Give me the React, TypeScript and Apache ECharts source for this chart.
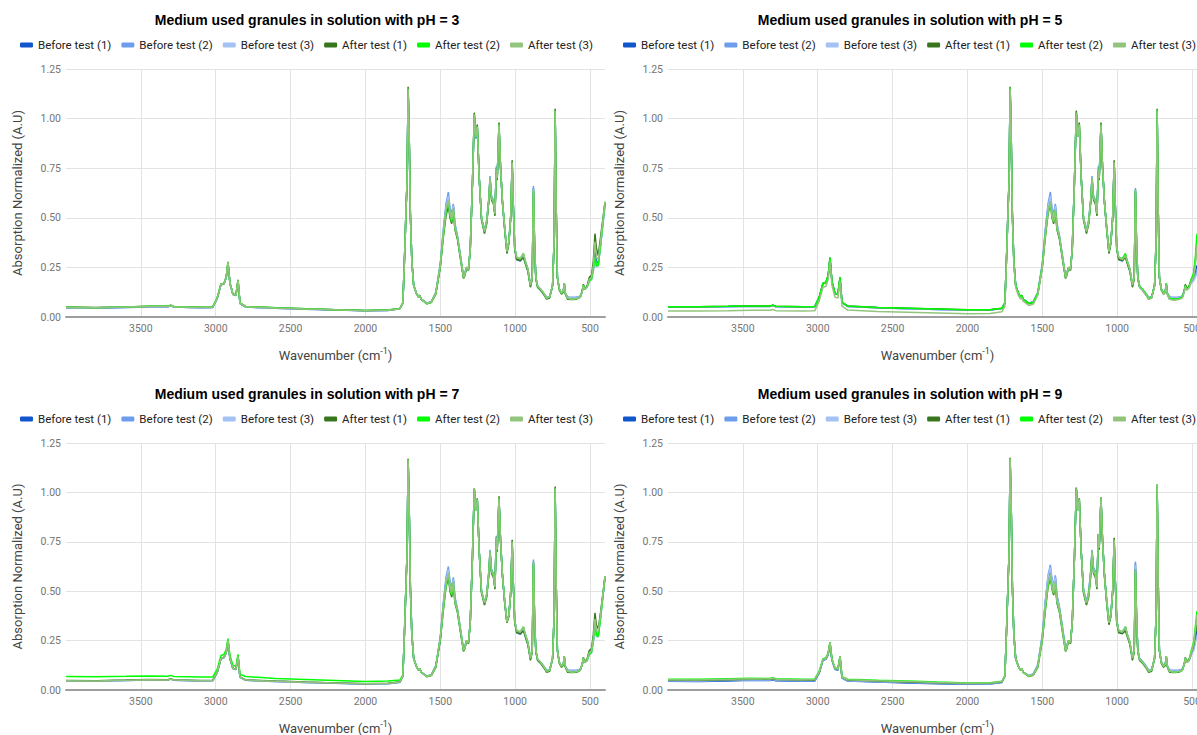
import React, { useEffect, useRef } from "react";
import * as echarts from "echarts";

// ---------- data ----------
const WAVENUMBERS = [
  4000, 3800, 3600, 3450, 3320, 3300, 3280, 3100, 3020, 2990,
  2965, 2945, 2930, 2918, 2905, 2885, 2865, 2851, 2838, 2800,
  2600, 2400, 2200, 2000, 1850, 1770, 1750, 1738, 1728, 1722,
  1715, 1708, 1700, 1690, 1678, 1660, 1645, 1638, 1628, 1590,
  1560, 1530, 1500, 1480, 1462, 1446, 1435, 1424, 1413, 1402,
  1385, 1365, 1345, 1338, 1325, 1312, 1300, 1285, 1273, 1263,
  1253, 1240, 1225, 1205, 1190, 1175, 1168, 1158, 1145, 1135,
  1126, 1120, 1108, 1098, 1085, 1070, 1055, 1042, 1030, 1020,
  1012, 1003, 990, 965, 945, 932, 915, 898, 886, 878,
  870, 862, 850, 830, 810, 790, 770, 750, 740, 733,
  726, 718, 705, 690, 678, 672, 665, 650, 620, 590,
  565, 552, 545, 535, 520, 505, 490, 478, 467, 458,
  445, 430, 415, 400,
];

const SERIES_NAMES = [
  "Before test (1)", "Before test (2)", "Before test (3)",
  "After test (1)", "After test (2)", "After test (3)",
];
const SERIES_COLORS = ["#1155cc", "#6d9eeb", "#a4c2f4", "#38761d", "#00ff00", "#93c47d"];
const PANEL_TITLES = [
  "Medium used granules in solution with pH = 3",
  "Medium used granules in solution with pH = 5",
  "Medium used granules in solution with pH = 7",
  "Medium used granules in solution with pH = 9",
];
const X_TICKS = [3500, 3000, 2500, 2000, 1500, 1000, 500];

// pH = 3
const PH3_BEFORE_1 = [
  0.045, 0.044, 0.048, 0.051, 0.051, 0.056, 0.050, 0.046, 0.048, 0.093,
  0.163, 0.166, 0.198, 0.272, 0.168, 0.113, 0.108, 0.182, 0.068, 0.050,
  0.044, 0.039, 0.035, 0.031, 0.033, 0.041, 0.07, 0.32, 0.56, 0.68,
  1.14, 0.92, 0.52, 0.28, 0.16, 0.12, 0.10, 0.11, 0.09, 0.07,
  0.077, 0.12, 0.26, 0.43, 0.55, 0.60, 0.53, 0.50, 0.56, 0.46,
  0.40, 0.30, 0.20, 0.21, 0.25, 0.24, 0.34, 0.68, 1.01, 0.90,
  0.95, 0.70, 0.50, 0.43, 0.48, 0.60, 0.70, 0.60, 0.58, 0.52,
  0.75, 0.70, 0.96, 0.76, 0.58, 0.45, 0.33, 0.38, 0.50, 0.77,
  0.55, 0.35, 0.29, 0.29, 0.31, 0.28, 0.24, 0.16, 0.20, 0.65,
  0.35, 0.20, 0.155, 0.14, 0.12, 0.10, 0.10, 0.16, 0.38, 1.03,
  0.55, 0.20, 0.14, 0.12, 0.13, 0.17, 0.12, 0.10, 0.095, 0.098,
  0.105, 0.13, 0.16, 0.14, 0.15, 0.19, 0.20, 0.25, 0.35, 0.28,
  0.27, 0.36, 0.47, 0.57,
];
const PH3_BEFORE_2 = [
  0.047, 0.046, 0.050, 0.052, 0.052, 0.057, 0.051, 0.047, 0.049, 0.094,
  0.165, 0.168, 0.20, 0.27, 0.17, 0.115, 0.11, 0.18, 0.07, 0.051,
  0.045, 0.040, 0.036, 0.032, 0.034, 0.042, 0.07, 0.32, 0.56, 0.68,
  1.14, 0.92, 0.52, 0.28, 0.16, 0.12, 0.10, 0.11, 0.09, 0.07,
  0.078, 0.125, 0.27, 0.44, 0.57, 0.63, 0.55, 0.52, 0.57, 0.47,
  0.41, 0.31, 0.21, 0.22, 0.25, 0.24, 0.34, 0.68, 1.01, 0.90,
  0.95, 0.70, 0.50, 0.44, 0.49, 0.61, 0.71, 0.61, 0.59, 0.53,
  0.76, 0.71, 0.96, 0.76, 0.58, 0.45, 0.33, 0.38, 0.50, 0.77,
  0.55, 0.35, 0.29, 0.28, 0.31, 0.27, 0.23, 0.16, 0.20, 0.66,
  0.35, 0.20, 0.15, 0.135, 0.115, 0.095, 0.10, 0.16, 0.38, 1.03,
  0.55, 0.20, 0.14, 0.12, 0.13, 0.17, 0.12, 0.10, 0.10, 0.10,
  0.105, 0.13, 0.155, 0.14, 0.15, 0.18, 0.19, 0.24, 0.30, 0.27,
  0.27, 0.36, 0.46, 0.56,
];
const PH3_BEFORE_3 = [
  0.046, 0.045, 0.049, 0.052, 0.052, 0.056, 0.051, 0.047, 0.049, 0.094,
  0.164, 0.167, 0.20, 0.272, 0.17, 0.114, 0.109, 0.183, 0.069, 0.051,
  0.044, 0.040, 0.036, 0.032, 0.034, 0.042, 0.07, 0.32, 0.56, 0.68,
  1.15, 0.92, 0.52, 0.28, 0.16, 0.12, 0.10, 0.11, 0.09, 0.07,
  0.076, 0.12, 0.26, 0.43, 0.55, 0.61, 0.53, 0.50, 0.56, 0.46,
  0.40, 0.30, 0.20, 0.21, 0.25, 0.24, 0.34, 0.68, 1.02, 0.91,
  0.96, 0.70, 0.50, 0.43, 0.48, 0.60, 0.70, 0.60, 0.58, 0.52,
  0.74, 0.70, 0.97, 0.76, 0.58, 0.45, 0.33, 0.38, 0.50, 0.78,
  0.55, 0.35, 0.30, 0.29, 0.31, 0.28, 0.24, 0.16, 0.20, 0.64,
  0.35, 0.20, 0.155, 0.14, 0.12, 0.10, 0.10, 0.16, 0.38, 1.04,
  0.55, 0.20, 0.14, 0.12, 0.13, 0.17, 0.12, 0.10, 0.095, 0.097,
  0.103, 0.13, 0.155, 0.14, 0.15, 0.18, 0.19, 0.23, 0.27, 0.25,
  0.26, 0.35, 0.46, 0.56,
];
const PH3_AFTER_1 = [
  0.050, 0.048, 0.051, 0.054, 0.054, 0.059, 0.053, 0.049, 0.051, 0.096,
  0.166, 0.169, 0.20, 0.278, 0.172, 0.116, 0.111, 0.187, 0.071, 0.053,
  0.046, 0.041, 0.037, 0.033, 0.035, 0.043, 0.07, 0.32, 0.56, 0.68,
  1.16, 0.93, 0.52, 0.28, 0.16, 0.12, 0.10, 0.11, 0.09, 0.066,
  0.073, 0.115, 0.25, 0.40, 0.51, 0.56, 0.50, 0.47, 0.53, 0.44,
  0.39, 0.29, 0.195, 0.205, 0.245, 0.235, 0.34, 0.68, 1.03, 0.92,
  0.97, 0.70, 0.49, 0.42, 0.47, 0.59, 0.69, 0.59, 0.57, 0.51,
  0.73, 0.69, 0.98, 0.76, 0.58, 0.44, 0.32, 0.37, 0.50, 0.79,
  0.55, 0.34, 0.29, 0.285, 0.30, 0.27, 0.23, 0.15, 0.19, 0.63,
  0.34, 0.19, 0.15, 0.135, 0.115, 0.09, 0.095, 0.16, 0.38, 1.05,
  0.55, 0.20, 0.135, 0.115, 0.125, 0.165, 0.115, 0.09, 0.088, 0.09,
  0.10, 0.13, 0.165, 0.145, 0.155, 0.20, 0.21, 0.28, 0.42, 0.35,
  0.31, 0.40, 0.49, 0.58,
];
const PH3_AFTER_2 = [
  0.049, 0.047, 0.051, 0.054, 0.054, 0.059, 0.053, 0.049, 0.051, 0.096,
  0.166, 0.169, 0.20, 0.276, 0.171, 0.116, 0.111, 0.186, 0.071, 0.053,
  0.046, 0.041, 0.037, 0.033, 0.035, 0.043, 0.07, 0.32, 0.56, 0.68,
  1.15, 0.92, 0.52, 0.28, 0.16, 0.12, 0.10, 0.11, 0.09, 0.067,
  0.074, 0.12, 0.26, 0.41, 0.53, 0.58, 0.51, 0.48, 0.54, 0.45,
  0.40, 0.30, 0.20, 0.21, 0.25, 0.24, 0.34, 0.68, 1.02, 0.91,
  0.96, 0.70, 0.50, 0.43, 0.48, 0.60, 0.70, 0.60, 0.58, 0.52,
  0.74, 0.70, 0.97, 0.76, 0.58, 0.45, 0.33, 0.38, 0.50, 0.78,
  0.55, 0.35, 0.30, 0.295, 0.32, 0.28, 0.24, 0.16, 0.20, 0.64,
  0.35, 0.20, 0.155, 0.14, 0.12, 0.095, 0.10, 0.16, 0.38, 1.04,
  0.55, 0.20, 0.14, 0.12, 0.13, 0.17, 0.12, 0.095, 0.09, 0.092,
  0.10, 0.13, 0.16, 0.14, 0.15, 0.18, 0.19, 0.24, 0.30, 0.26,
  0.26, 0.36, 0.47, 0.58,
];
const PH3_AFTER_3 = [
  0.048, 0.046, 0.050, 0.053, 0.053, 0.058, 0.052, 0.048, 0.050, 0.095,
  0.165, 0.168, 0.20, 0.275, 0.17, 0.115, 0.11, 0.185, 0.07, 0.052,
  0.045, 0.040, 0.036, 0.032, 0.034, 0.042, 0.07, 0.32, 0.56, 0.68,
  1.15, 0.92, 0.52, 0.28, 0.16, 0.12, 0.10, 0.11, 0.09, 0.068,
  0.075, 0.12, 0.26, 0.42, 0.54, 0.59, 0.52, 0.49, 0.55, 0.45,
  0.40, 0.30, 0.20, 0.21, 0.25, 0.24, 0.34, 0.68, 1.02, 0.91,
  0.96, 0.70, 0.50, 0.43, 0.48, 0.60, 0.70, 0.60, 0.58, 0.52,
  0.74, 0.70, 0.97, 0.76, 0.58, 0.45, 0.33, 0.38, 0.50, 0.78,
  0.55, 0.35, 0.30, 0.295, 0.32, 0.28, 0.24, 0.16, 0.20, 0.645,
  0.35, 0.20, 0.155, 0.14, 0.12, 0.095, 0.10, 0.16, 0.38, 1.04,
  0.55, 0.20, 0.14, 0.12, 0.13, 0.17, 0.12, 0.095, 0.09, 0.093,
  0.10, 0.13, 0.16, 0.14, 0.15, 0.19, 0.20, 0.26, 0.38, 0.30,
  0.29, 0.38, 0.48, 0.58,
];

// pH = 5
const PH5_BEFORE_1 = [
  0.050, 0.050, 0.052, 0.054, 0.053, 0.058, 0.052, 0.050, 0.051, 0.098,
  0.168, 0.173, 0.208, 0.296, 0.178, 0.118, 0.113, 0.197, 0.073, 0.053,
  0.046, 0.042, 0.038, 0.034, 0.035, 0.043, 0.07, 0.32, 0.56, 0.68,
  1.15, 0.92, 0.52, 0.28, 0.16, 0.12, 0.10, 0.11, 0.09, 0.07,
  0.077, 0.12, 0.26, 0.43, 0.55, 0.60, 0.53, 0.50, 0.56, 0.46,
  0.40, 0.30, 0.20, 0.21, 0.25, 0.24, 0.34, 0.69, 1.03, 0.91,
  0.96, 0.70, 0.50, 0.43, 0.48, 0.60, 0.70, 0.60, 0.58, 0.52,
  0.74, 0.70, 0.97, 0.76, 0.58, 0.45, 0.33, 0.38, 0.50, 0.78,
  0.55, 0.35, 0.30, 0.29, 0.31, 0.28, 0.24, 0.16, 0.20, 0.64,
  0.35, 0.20, 0.155, 0.14, 0.12, 0.10, 0.10, 0.16, 0.38, 1.04,
  0.55, 0.20, 0.14, 0.12, 0.13, 0.17, 0.12, 0.10, 0.095, 0.098,
  0.105, 0.13, 0.16, 0.14, 0.15, 0.18, 0.19, 0.22, 0.26, 0.24,
  0.25, 0.33, 0.42, 0.50,
];
const PH5_BEFORE_2 = [
  0.051, 0.051, 0.053, 0.055, 0.054, 0.059, 0.053, 0.051, 0.052, 0.099,
  0.169, 0.174, 0.209, 0.298, 0.179, 0.119, 0.114, 0.198, 0.074, 0.054,
  0.047, 0.043, 0.039, 0.035, 0.035, 0.043, 0.07, 0.32, 0.56, 0.68,
  1.15, 0.92, 0.52, 0.28, 0.16, 0.12, 0.10, 0.11, 0.09, 0.07,
  0.078, 0.125, 0.27, 0.44, 0.57, 0.63, 0.55, 0.52, 0.57, 0.47,
  0.41, 0.31, 0.21, 0.22, 0.25, 0.24, 0.34, 0.69, 1.02, 0.91,
  0.96, 0.70, 0.50, 0.44, 0.49, 0.61, 0.71, 0.61, 0.59, 0.53,
  0.76, 0.71, 0.96, 0.76, 0.58, 0.45, 0.33, 0.38, 0.50, 0.77,
  0.55, 0.35, 0.29, 0.28, 0.31, 0.27, 0.23, 0.16, 0.20, 0.65,
  0.35, 0.20, 0.15, 0.135, 0.115, 0.095, 0.10, 0.16, 0.38, 1.04,
  0.55, 0.20, 0.14, 0.12, 0.13, 0.17, 0.12, 0.10, 0.10, 0.10,
  0.105, 0.13, 0.155, 0.14, 0.15, 0.18, 0.19, 0.21, 0.24, 0.23,
  0.24, 0.32, 0.41, 0.49,
];
const PH5_BEFORE_3 = [
  0.050, 0.050, 0.052, 0.054, 0.054, 0.058, 0.052, 0.050, 0.051, 0.098,
  0.168, 0.172, 0.207, 0.295, 0.177, 0.118, 0.113, 0.196, 0.073, 0.053,
  0.046, 0.042, 0.038, 0.034, 0.035, 0.043, 0.07, 0.32, 0.56, 0.68,
  1.155, 0.92, 0.52, 0.28, 0.16, 0.12, 0.10, 0.11, 0.09, 0.07,
  0.076, 0.12, 0.26, 0.43, 0.55, 0.61, 0.53, 0.50, 0.56, 0.46,
  0.40, 0.30, 0.20, 0.21, 0.25, 0.24, 0.34, 0.69, 1.03, 0.91,
  0.97, 0.70, 0.50, 0.43, 0.48, 0.60, 0.70, 0.60, 0.58, 0.52,
  0.74, 0.70, 0.97, 0.76, 0.58, 0.45, 0.33, 0.38, 0.50, 0.78,
  0.55, 0.35, 0.30, 0.29, 0.31, 0.28, 0.24, 0.16, 0.20, 0.63,
  0.35, 0.20, 0.155, 0.14, 0.12, 0.10, 0.10, 0.16, 0.38, 1.045,
  0.55, 0.20, 0.14, 0.12, 0.13, 0.17, 0.12, 0.10, 0.095, 0.097,
  0.103, 0.13, 0.155, 0.14, 0.15, 0.17, 0.18, 0.20, 0.22, 0.21,
  0.23, 0.31, 0.40, 0.48,
];
const PH5_AFTER_1 = [
  0.052, 0.052, 0.054, 0.056, 0.055, 0.060, 0.054, 0.052, 0.053, 0.10,
  0.17, 0.175, 0.21, 0.30, 0.18, 0.12, 0.115, 0.20, 0.075, 0.055,
  0.048, 0.044, 0.040, 0.036, 0.036, 0.044, 0.07, 0.32, 0.56, 0.68,
  1.16, 0.93, 0.52, 0.28, 0.16, 0.12, 0.10, 0.11, 0.09, 0.067,
  0.073, 0.115, 0.25, 0.40, 0.52, 0.57, 0.50, 0.47, 0.53, 0.44,
  0.39, 0.29, 0.195, 0.205, 0.245, 0.235, 0.34, 0.69, 1.04, 0.92,
  0.98, 0.70, 0.49, 0.42, 0.47, 0.59, 0.69, 0.59, 0.57, 0.51,
  0.73, 0.69, 0.98, 0.76, 0.58, 0.44, 0.32, 0.37, 0.50, 0.79,
  0.55, 0.34, 0.29, 0.285, 0.30, 0.27, 0.23, 0.15, 0.19, 0.63,
  0.34, 0.19, 0.15, 0.135, 0.115, 0.09, 0.095, 0.16, 0.38, 1.05,
  0.55, 0.20, 0.135, 0.115, 0.125, 0.165, 0.115, 0.09, 0.088, 0.09,
  0.10, 0.13, 0.165, 0.145, 0.155, 0.19, 0.21, 0.28, 0.38, 0.32,
  0.30, 0.38, 0.46, 0.52,
];
const PH5_AFTER_2 = [
  0.052, 0.052, 0.054, 0.056, 0.055, 0.060, 0.054, 0.052, 0.053, 0.10,
  0.17, 0.175, 0.21, 0.30, 0.18, 0.12, 0.115, 0.20, 0.075, 0.055,
  0.048, 0.044, 0.040, 0.036, 0.036, 0.044, 0.07, 0.32, 0.56, 0.68,
  1.155, 0.92, 0.52, 0.28, 0.16, 0.12, 0.10, 0.11, 0.09, 0.068,
  0.075, 0.12, 0.26, 0.41, 0.53, 0.58, 0.51, 0.48, 0.54, 0.45,
  0.40, 0.30, 0.20, 0.21, 0.25, 0.24, 0.34, 0.69, 1.03, 0.91,
  0.97, 0.70, 0.50, 0.43, 0.48, 0.60, 0.70, 0.60, 0.58, 0.52,
  0.74, 0.70, 0.97, 0.76, 0.58, 0.45, 0.33, 0.38, 0.50, 0.78,
  0.55, 0.35, 0.30, 0.295, 0.32, 0.28, 0.24, 0.16, 0.20, 0.64,
  0.35, 0.20, 0.155, 0.14, 0.12, 0.095, 0.10, 0.16, 0.38, 1.045,
  0.55, 0.20, 0.14, 0.12, 0.13, 0.17, 0.12, 0.095, 0.09, 0.092,
  0.10, 0.13, 0.16, 0.14, 0.15, 0.19, 0.22, 0.30, 0.42, 0.36,
  0.34, 0.41, 0.48, 0.54,
];
const PH5_AFTER_3 = [
  0.030, 0.030, 0.032, 0.034, 0.034, 0.038, 0.032, 0.030, 0.031, 0.08,
  0.15, 0.155, 0.19, 0.28, 0.16, 0.10, 0.095, 0.18, 0.055, 0.035,
  0.028, 0.024, 0.020, 0.016, 0.018, 0.026, 0.055, 0.31, 0.55, 0.67,
  1.15, 0.92, 0.51, 0.27, 0.15, 0.11, 0.09, 0.10, 0.08, 0.058,
  0.065, 0.11, 0.25, 0.41, 0.53, 0.58, 0.51, 0.48, 0.54, 0.45,
  0.40, 0.30, 0.20, 0.21, 0.25, 0.24, 0.34, 0.69, 1.03, 0.91,
  0.97, 0.70, 0.50, 0.43, 0.48, 0.60, 0.70, 0.60, 0.58, 0.52,
  0.74, 0.70, 0.97, 0.76, 0.58, 0.45, 0.33, 0.38, 0.50, 0.78,
  0.55, 0.35, 0.30, 0.29, 0.31, 0.28, 0.24, 0.16, 0.20, 0.64,
  0.35, 0.20, 0.15, 0.135, 0.115, 0.09, 0.095, 0.155, 0.38, 1.04,
  0.55, 0.20, 0.135, 0.115, 0.125, 0.165, 0.115, 0.09, 0.085, 0.088,
  0.095, 0.125, 0.155, 0.135, 0.145, 0.18, 0.20, 0.26, 0.36, 0.30,
  0.29, 0.37, 0.45, 0.51,
];

// pH = 7
const PH7_BEFORE_1 = [
  0.046, 0.045, 0.048, 0.051, 0.050, 0.055, 0.049, 0.046, 0.047, 0.088,
  0.158, 0.163, 0.188, 0.247, 0.158, 0.108, 0.103, 0.168, 0.064, 0.049,
  0.043, 0.038, 0.034, 0.030, 0.032, 0.039, 0.07, 0.32, 0.56, 0.69,
  1.16, 0.93, 0.52, 0.28, 0.16, 0.12, 0.10, 0.11, 0.09, 0.07,
  0.077, 0.12, 0.26, 0.43, 0.55, 0.60, 0.53, 0.50, 0.56, 0.46,
  0.40, 0.30, 0.20, 0.21, 0.25, 0.24, 0.34, 0.68, 1.01, 0.91,
  0.96, 0.70, 0.50, 0.44, 0.48, 0.60, 0.70, 0.60, 0.58, 0.52,
  0.77, 0.71, 0.96, 0.76, 0.58, 0.45, 0.345, 0.38, 0.49, 0.74,
  0.53, 0.35, 0.30, 0.29, 0.31, 0.28, 0.24, 0.16, 0.20, 0.65,
  0.35, 0.20, 0.155, 0.14, 0.12, 0.10, 0.10, 0.16, 0.37, 1.01,
  0.54, 0.20, 0.14, 0.12, 0.13, 0.17, 0.12, 0.10, 0.095, 0.098,
  0.105, 0.13, 0.16, 0.14, 0.15, 0.19, 0.20, 0.25, 0.33, 0.28,
  0.28, 0.37, 0.47, 0.57,
];
const PH7_BEFORE_2 = [
  0.047, 0.046, 0.049, 0.052, 0.051, 0.056, 0.050, 0.047, 0.048, 0.089,
  0.159, 0.164, 0.189, 0.248, 0.159, 0.109, 0.104, 0.169, 0.065, 0.050,
  0.044, 0.039, 0.035, 0.031, 0.033, 0.040, 0.07, 0.32, 0.56, 0.69,
  1.16, 0.93, 0.52, 0.28, 0.16, 0.12, 0.10, 0.11, 0.09, 0.07,
  0.078, 0.125, 0.27, 0.44, 0.57, 0.625, 0.55, 0.52, 0.57, 0.47,
  0.41, 0.31, 0.21, 0.22, 0.25, 0.24, 0.34, 0.68, 1.02, 0.91,
  0.96, 0.70, 0.50, 0.44, 0.49, 0.61, 0.71, 0.61, 0.59, 0.53,
  0.78, 0.72, 0.97, 0.76, 0.58, 0.45, 0.35, 0.38, 0.49, 0.74,
  0.53, 0.35, 0.29, 0.28, 0.31, 0.27, 0.23, 0.16, 0.20, 0.66,
  0.35, 0.20, 0.15, 0.135, 0.115, 0.095, 0.10, 0.16, 0.37, 1.01,
  0.54, 0.20, 0.14, 0.12, 0.13, 0.17, 0.12, 0.10, 0.10, 0.10,
  0.105, 0.13, 0.155, 0.14, 0.15, 0.18, 0.19, 0.25, 0.35, 0.29,
  0.28, 0.37, 0.47, 0.57,
];
const PH7_BEFORE_3 = [
  0.046, 0.045, 0.048, 0.051, 0.050, 0.055, 0.049, 0.046, 0.047, 0.088,
  0.158, 0.163, 0.188, 0.248, 0.158, 0.108, 0.103, 0.168, 0.064, 0.049,
  0.043, 0.038, 0.034, 0.030, 0.032, 0.039, 0.07, 0.32, 0.56, 0.69,
  1.165, 0.93, 0.52, 0.28, 0.16, 0.12, 0.10, 0.11, 0.09, 0.07,
  0.076, 0.12, 0.26, 0.43, 0.55, 0.61, 0.53, 0.50, 0.56, 0.46,
  0.40, 0.30, 0.20, 0.21, 0.25, 0.24, 0.34, 0.68, 1.02, 0.91,
  0.965, 0.70, 0.50, 0.44, 0.48, 0.60, 0.70, 0.60, 0.58, 0.52,
  0.77, 0.71, 0.97, 0.76, 0.58, 0.45, 0.345, 0.38, 0.49, 0.75,
  0.53, 0.35, 0.30, 0.29, 0.31, 0.28, 0.24, 0.16, 0.20, 0.64,
  0.35, 0.20, 0.155, 0.14, 0.12, 0.10, 0.10, 0.16, 0.37, 1.02,
  0.54, 0.20, 0.14, 0.12, 0.13, 0.17, 0.12, 0.10, 0.095, 0.097,
  0.103, 0.13, 0.155, 0.14, 0.15, 0.18, 0.19, 0.24, 0.30, 0.27,
  0.27, 0.36, 0.46, 0.56,
];
const PH7_AFTER_1 = [
  0.048, 0.047, 0.050, 0.053, 0.052, 0.057, 0.051, 0.048, 0.049, 0.09,
  0.16, 0.165, 0.19, 0.252, 0.16, 0.11, 0.105, 0.172, 0.066, 0.051,
  0.045, 0.040, 0.036, 0.032, 0.034, 0.041, 0.07, 0.32, 0.56, 0.69,
  1.17, 0.94, 0.52, 0.28, 0.16, 0.12, 0.10, 0.11, 0.09, 0.067,
  0.073, 0.115, 0.25, 0.40, 0.52, 0.57, 0.50, 0.47, 0.53, 0.44,
  0.39, 0.29, 0.195, 0.205, 0.245, 0.235, 0.34, 0.68, 1.02, 0.92,
  0.97, 0.70, 0.49, 0.43, 0.47, 0.59, 0.69, 0.59, 0.57, 0.51,
  0.76, 0.70, 0.98, 0.76, 0.58, 0.44, 0.34, 0.37, 0.49, 0.76,
  0.53, 0.34, 0.29, 0.285, 0.30, 0.27, 0.23, 0.15, 0.19, 0.64,
  0.34, 0.19, 0.15, 0.135, 0.115, 0.09, 0.095, 0.16, 0.37, 1.03,
  0.54, 0.20, 0.135, 0.115, 0.125, 0.165, 0.115, 0.09, 0.088, 0.09,
  0.10, 0.13, 0.165, 0.145, 0.155, 0.20, 0.21, 0.28, 0.39, 0.33,
  0.31, 0.39, 0.48, 0.575,
];
const PH7_AFTER_2 = [
  0.068, 0.067, 0.069, 0.071, 0.070, 0.074, 0.068, 0.066, 0.066, 0.105,
  0.175, 0.18, 0.205, 0.26, 0.175, 0.125, 0.12, 0.18, 0.08, 0.068,
  0.058, 0.053, 0.048, 0.043, 0.045, 0.050, 0.075, 0.32, 0.56, 0.69,
  1.165, 0.93, 0.52, 0.28, 0.16, 0.12, 0.10, 0.11, 0.09, 0.068,
  0.075, 0.12, 0.26, 0.41, 0.53, 0.58, 0.51, 0.48, 0.54, 0.45,
  0.40, 0.30, 0.20, 0.21, 0.25, 0.24, 0.34, 0.68, 1.02, 0.91,
  0.965, 0.70, 0.50, 0.44, 0.48, 0.60, 0.70, 0.60, 0.58, 0.52,
  0.77, 0.71, 0.97, 0.76, 0.58, 0.45, 0.345, 0.38, 0.49, 0.75,
  0.53, 0.35, 0.30, 0.295, 0.32, 0.28, 0.24, 0.16, 0.20, 0.64,
  0.35, 0.20, 0.155, 0.14, 0.12, 0.095, 0.10, 0.16, 0.37, 1.02,
  0.54, 0.20, 0.14, 0.12, 0.13, 0.17, 0.12, 0.095, 0.09, 0.092,
  0.10, 0.13, 0.16, 0.14, 0.15, 0.18, 0.19, 0.25, 0.34, 0.28,
  0.27, 0.36, 0.47, 0.575,
];
const PH7_AFTER_3 = [
  0.047, 0.046, 0.049, 0.052, 0.051, 0.056, 0.050, 0.047, 0.048, 0.09,
  0.16, 0.165, 0.19, 0.25, 0.16, 0.11, 0.105, 0.17, 0.065, 0.05,
  0.044, 0.039, 0.035, 0.031, 0.033, 0.040, 0.07, 0.32, 0.56, 0.69,
  1.165, 0.93, 0.52, 0.28, 0.16, 0.12, 0.10, 0.11, 0.09, 0.068,
  0.075, 0.12, 0.26, 0.42, 0.54, 0.59, 0.52, 0.49, 0.55, 0.45,
  0.40, 0.30, 0.20, 0.21, 0.25, 0.24, 0.34, 0.68, 1.02, 0.91,
  0.965, 0.70, 0.50, 0.44, 0.48, 0.60, 0.70, 0.60, 0.58, 0.52,
  0.77, 0.71, 0.97, 0.76, 0.58, 0.45, 0.345, 0.38, 0.49, 0.75,
  0.53, 0.35, 0.30, 0.295, 0.32, 0.28, 0.24, 0.16, 0.20, 0.65,
  0.35, 0.20, 0.155, 0.14, 0.12, 0.095, 0.10, 0.16, 0.37, 1.02,
  0.54, 0.20, 0.14, 0.12, 0.13, 0.17, 0.12, 0.095, 0.09, 0.093,
  0.10, 0.13, 0.16, 0.14, 0.15, 0.19, 0.20, 0.26, 0.36, 0.30,
  0.30, 0.38, 0.48, 0.575,
];

// pH = 9
const PH9_BEFORE_1 = [
  0.044, 0.043, 0.046, 0.049, 0.048, 0.052, 0.047, 0.044, 0.045, 0.085,
  0.15, 0.155, 0.18, 0.235, 0.15, 0.105, 0.10, 0.165, 0.06, 0.045,
  0.040, 0.036, 0.032, 0.029, 0.030, 0.038, 0.07, 0.32, 0.56, 0.69,
  1.165, 0.94, 0.53, 0.28, 0.16, 0.12, 0.10, 0.11, 0.09, 0.072,
  0.08, 0.125, 0.27, 0.44, 0.56, 0.61, 0.55, 0.52, 0.57, 0.47,
  0.41, 0.31, 0.21, 0.22, 0.25, 0.24, 0.34, 0.68, 1.01, 0.91,
  0.96, 0.70, 0.50, 0.44, 0.49, 0.61, 0.70, 0.61, 0.59, 0.53,
  0.79, 0.72, 0.96, 0.76, 0.58, 0.45, 0.34, 0.38, 0.50, 0.75,
  0.54, 0.35, 0.30, 0.29, 0.31, 0.28, 0.24, 0.16, 0.20, 0.64,
  0.35, 0.20, 0.155, 0.14, 0.12, 0.10, 0.10, 0.16, 0.38, 1.03,
  0.55, 0.20, 0.14, 0.12, 0.13, 0.17, 0.12, 0.10, 0.095, 0.098,
  0.105, 0.13, 0.16, 0.14, 0.15, 0.18, 0.21, 0.26, 0.30, 0.27,
  0.27, 0.34, 0.42, 0.48,
];
const PH9_BEFORE_2 = [
  0.046, 0.045, 0.048, 0.051, 0.050, 0.054, 0.049, 0.046, 0.047, 0.087,
  0.152, 0.157, 0.182, 0.238, 0.152, 0.107, 0.102, 0.167, 0.062, 0.047,
  0.042, 0.038, 0.034, 0.031, 0.032, 0.040, 0.07, 0.32, 0.56, 0.69,
  1.165, 0.94, 0.53, 0.28, 0.16, 0.12, 0.10, 0.11, 0.09, 0.074,
  0.082, 0.13, 0.28, 0.45, 0.58, 0.633, 0.56, 0.53, 0.58, 0.48,
  0.42, 0.32, 0.21, 0.22, 0.25, 0.24, 0.34, 0.68, 1.02, 0.91,
  0.96, 0.70, 0.51, 0.45, 0.50, 0.62, 0.71, 0.62, 0.60, 0.54,
  0.79, 0.73, 0.97, 0.77, 0.59, 0.46, 0.35, 0.39, 0.50, 0.75,
  0.54, 0.36, 0.30, 0.29, 0.32, 0.28, 0.24, 0.165, 0.205, 0.65,
  0.36, 0.205, 0.16, 0.145, 0.125, 0.10, 0.105, 0.165, 0.38, 1.03,
  0.55, 0.20, 0.145, 0.125, 0.135, 0.17, 0.125, 0.10, 0.10, 0.10,
  0.105, 0.13, 0.155, 0.14, 0.15, 0.18, 0.20, 0.25, 0.28, 0.26,
  0.26, 0.33, 0.41, 0.47,
];
const PH9_BEFORE_3 = [
  0.048, 0.047, 0.050, 0.053, 0.052, 0.056, 0.051, 0.048, 0.049, 0.088,
  0.153, 0.158, 0.183, 0.238, 0.153, 0.108, 0.103, 0.168, 0.063, 0.048,
  0.043, 0.039, 0.035, 0.032, 0.033, 0.041, 0.07, 0.32, 0.56, 0.69,
  1.17, 0.94, 0.53, 0.28, 0.16, 0.12, 0.10, 0.11, 0.09, 0.073,
  0.08, 0.125, 0.27, 0.44, 0.57, 0.62, 0.55, 0.52, 0.57, 0.47,
  0.41, 0.31, 0.21, 0.22, 0.25, 0.24, 0.34, 0.68, 1.02, 0.91,
  0.965, 0.70, 0.50, 0.44, 0.49, 0.61, 0.70, 0.61, 0.59, 0.53,
  0.79, 0.72, 0.97, 0.76, 0.58, 0.45, 0.34, 0.38, 0.50, 0.76,
  0.54, 0.35, 0.30, 0.29, 0.31, 0.28, 0.24, 0.16, 0.20, 0.63,
  0.35, 0.20, 0.155, 0.14, 0.12, 0.10, 0.10, 0.16, 0.38, 1.035,
  0.55, 0.20, 0.14, 0.12, 0.13, 0.17, 0.12, 0.10, 0.095, 0.097,
  0.103, 0.13, 0.155, 0.14, 0.15, 0.18, 0.20, 0.24, 0.27, 0.25,
  0.25, 0.32, 0.40, 0.46,
];
const PH9_AFTER_1 = [
  0.050, 0.049, 0.052, 0.055, 0.054, 0.058, 0.053, 0.050, 0.051, 0.09,
  0.155, 0.16, 0.185, 0.24, 0.155, 0.11, 0.105, 0.17, 0.065, 0.05,
  0.045, 0.041, 0.037, 0.033, 0.034, 0.042, 0.07, 0.32, 0.56, 0.69,
  1.175, 0.95, 0.53, 0.28, 0.16, 0.12, 0.10, 0.11, 0.09, 0.068,
  0.075, 0.115, 0.25, 0.40, 0.52, 0.57, 0.51, 0.48, 0.53, 0.44,
  0.39, 0.29, 0.195, 0.205, 0.245, 0.235, 0.34, 0.68, 1.025, 0.92,
  0.97, 0.70, 0.49, 0.43, 0.47, 0.59, 0.69, 0.59, 0.57, 0.51,
  0.78, 0.71, 0.975, 0.76, 0.58, 0.44, 0.33, 0.37, 0.50, 0.77,
  0.54, 0.34, 0.29, 0.285, 0.30, 0.27, 0.23, 0.15, 0.19, 0.61,
  0.34, 0.19, 0.15, 0.135, 0.115, 0.09, 0.095, 0.16, 0.38, 1.04,
  0.55, 0.20, 0.135, 0.115, 0.125, 0.165, 0.115, 0.09, 0.088, 0.09,
  0.10, 0.13, 0.165, 0.145, 0.155, 0.19, 0.22, 0.28, 0.33, 0.30,
  0.29, 0.36, 0.44, 0.49,
];
const PH9_AFTER_2 = [
  0.055, 0.054, 0.057, 0.059, 0.058, 0.062, 0.057, 0.055, 0.056, 0.095,
  0.158, 0.163, 0.188, 0.242, 0.158, 0.113, 0.108, 0.172, 0.068, 0.055,
  0.049, 0.045, 0.040, 0.036, 0.037, 0.044, 0.07, 0.32, 0.56, 0.69,
  1.17, 0.94, 0.53, 0.28, 0.16, 0.12, 0.10, 0.11, 0.09, 0.07,
  0.077, 0.12, 0.26, 0.41, 0.53, 0.575, 0.52, 0.49, 0.54, 0.45,
  0.40, 0.30, 0.20, 0.21, 0.25, 0.24, 0.34, 0.68, 1.02, 0.91,
  0.965, 0.70, 0.50, 0.44, 0.48, 0.60, 0.70, 0.60, 0.58, 0.52,
  0.79, 0.72, 0.97, 0.76, 0.58, 0.45, 0.34, 0.38, 0.50, 0.76,
  0.54, 0.35, 0.30, 0.295, 0.32, 0.28, 0.24, 0.16, 0.20, 0.60,
  0.35, 0.20, 0.155, 0.14, 0.12, 0.095, 0.10, 0.16, 0.38, 1.04,
  0.55, 0.20, 0.14, 0.12, 0.13, 0.17, 0.12, 0.095, 0.09, 0.092,
  0.10, 0.13, 0.16, 0.14, 0.15, 0.20, 0.24, 0.32, 0.40, 0.34,
  0.32, 0.38, 0.45, 0.50,
];
const PH9_AFTER_3 = [
  0.052, 0.051, 0.054, 0.057, 0.056, 0.060, 0.055, 0.052, 0.053, 0.092,
  0.156, 0.161, 0.186, 0.24, 0.156, 0.111, 0.106, 0.17, 0.066, 0.052,
  0.047, 0.043, 0.038, 0.034, 0.035, 0.043, 0.07, 0.32, 0.56, 0.69,
  1.17, 0.94, 0.53, 0.28, 0.16, 0.12, 0.10, 0.11, 0.09, 0.07,
  0.077, 0.12, 0.26, 0.42, 0.54, 0.585, 0.52, 0.49, 0.55, 0.45,
  0.40, 0.30, 0.20, 0.21, 0.25, 0.24, 0.34, 0.68, 1.02, 0.91,
  0.965, 0.70, 0.50, 0.44, 0.48, 0.60, 0.70, 0.60, 0.58, 0.52,
  0.79, 0.72, 0.97, 0.76, 0.58, 0.45, 0.34, 0.38, 0.50, 0.76,
  0.54, 0.35, 0.30, 0.295, 0.32, 0.28, 0.24, 0.16, 0.20, 0.61,
  0.35, 0.20, 0.155, 0.14, 0.12, 0.095, 0.10, 0.16, 0.38, 1.04,
  0.55, 0.20, 0.14, 0.12, 0.13, 0.17, 0.12, 0.095, 0.09, 0.093,
  0.10, 0.13, 0.16, 0.14, 0.15, 0.19, 0.23, 0.30, 0.38, 0.32,
  0.31, 0.37, 0.45, 0.50,
];

const PANEL_SERIES = [
  [PH3_BEFORE_1, PH3_BEFORE_2, PH3_BEFORE_3, PH3_AFTER_1, PH3_AFTER_2, PH3_AFTER_3],
  [PH5_BEFORE_1, PH5_BEFORE_2, PH5_BEFORE_3, PH5_AFTER_1, PH5_AFTER_2, PH5_AFTER_3],
  [PH7_BEFORE_1, PH7_BEFORE_2, PH7_BEFORE_3, PH7_AFTER_1, PH7_AFTER_2, PH7_AFTER_3],
  [PH9_BEFORE_1, PH9_BEFORE_2, PH9_BEFORE_3, PH9_AFTER_1, PH9_AFTER_2, PH9_AFTER_3],
];

// ---------- layout (not data) ----------
const LAYOUT = [
  { gridLeft: 66, gridTop: 69, gridH: 248, titleX: 307, titleY: 20, legendLeft: 20, legendTop: 39 },
  { gridLeft: 668, gridTop: 69, gridH: 248, titleX: 910, titleY: 20, legendLeft: 623, legendTop: 39 },
  { gridLeft: 66, gridTop: 443, gridH: 247, titleX: 307, titleY: 394, legendLeft: 20, legendTop: 413 },
  { gridLeft: 668, gridTop: 443, gridH: 247, titleX: 910, titleY: 394, legendLeft: 623, legendTop: 413 },
];
const GRID_W = 539;
const FONT = "Roboto, 'Noto Sans', sans-serif";

export default function App() {
  const ref = useRef<HTMLDivElement>(null);

  useEffect(() => {
    if (!ref.current) return;
    const chart = echarts.init(ref.current, undefined, { renderer: "svg" });

    const grid = LAYOUT.map((l) => ({
      left: l.gridLeft,
      top: l.gridTop,
      width: GRID_W,
      height: l.gridH,
      containLabel: false,
      outerBoundsMode: "none",
    }));

    const xAxis = LAYOUT.map((_, i) => ({
      gridIndex: i,
      type: "value",
      min: 400,
      max: 4000,
      inverse: true,
      axisLine: { show: true, onZero: false, lineStyle: { color: "#9e9e9e", width: 2 } },
      axisTick: { show: false, customValues: X_TICKS },
      axisLabel: {
        customValues: X_TICKS,
        formatter: (v: number) => String(v),
        color: "#757575",
        fontSize: 10.5,
        fontFamily: FONT,
        margin: 6,
        hideOverlap: false,
      },
      splitLine: { show: true, lineStyle: { color: "#e3e3e3", width: 1 } },
      name: "{a|Wavenumber (cm}{b|-1}{a|)}",
      nameLocation: "middle",
      nameGap: 29,
      nameTextStyle: {
        rich: {
          a: { fontSize: 13, color: "#444", fontFamily: FONT, lineHeight: 18 },
          b: { fontSize: 9, color: "#444", fontFamily: FONT, lineHeight: 10, verticalAlign: "top" },
        },
      },
    }));

    const yAxis = LAYOUT.map((_, i) => ({
      gridIndex: i,
      type: "value",
      min: 0,
      max: 1.25,
      interval: 0.25,
      axisLine: { show: false },
      axisTick: { show: false },
      axisLabel: {
        formatter: (v: number) => v.toFixed(2),
        color: "#757575",
        fontSize: 10.5,
        fontFamily: FONT,
        margin: 5,
      },
      splitLine: { show: true, lineStyle: { color: "#e3e3e3", width: 1 } },
      name: "Absorption Normalized (A.U)",
      nameLocation: "middle",
      nameGap: 42,
      nameTextStyle: { color: "#444", fontSize: 13, fontFamily: FONT },
    }));

    const legend = LAYOUT.map((l) => ({
      left: l.legendLeft,
      top: l.legendTop,
      padding: 0,
      itemGap: 10,
      itemWidth: 13,
      itemHeight: 5,
      icon: "roundRect",
      textStyle: { fontSize: 11.5, color: "#222", fontFamily: FONT },
      data: SERIES_NAMES,
    }));

    const series: any[] = [];
    PANEL_SERIES.forEach((panel, p) => {
      panel.forEach((values, s) => {
        const n = Math.min(values.length, WAVENUMBERS.length);
        const data: number[][] = [];
        for (let k = 0; k < n; k++) data.push([WAVENUMBERS[k], values[k]]);
        series.push({
          type: "line",
          name: SERIES_NAMES[s],
          xAxisIndex: p,
          yAxisIndex: p,
          data,
          showSymbol: false,
          symbol: "none",
          silent: true,
          lineStyle: { width: 1.5, color: SERIES_COLORS[s] },
          itemStyle: { color: SERIES_COLORS[s] },
        });
      });
    });

    const graphic = LAYOUT.map((l, i) => ({
      type: "text",
      x: l.titleX,
      y: l.titleY,
      silent: true,
      style: {
        text: PANEL_TITLES[i],
        fontSize: 14,
        fontWeight: "bold",
        fontFamily: "Arial, 'Liberation Sans', sans-serif",
        fill: "#000",
        align: "center",
        verticalAlign: "middle",
      },
    }));

    chart.setOption({
      animation: false,
      backgroundColor: "#fff",
      textStyle: { fontFamily: FONT },
      grid,
      xAxis,
      yAxis,
      legend,
      series,
      graphic,
    });

    return () => chart.dispose();
  }, []);

  return (
    <div
      ref={ref}
      style={{ position: "fixed", left: 0, top: 0, width: 1197, height: 735, overflow: "hidden" }}
    />
  );
}
